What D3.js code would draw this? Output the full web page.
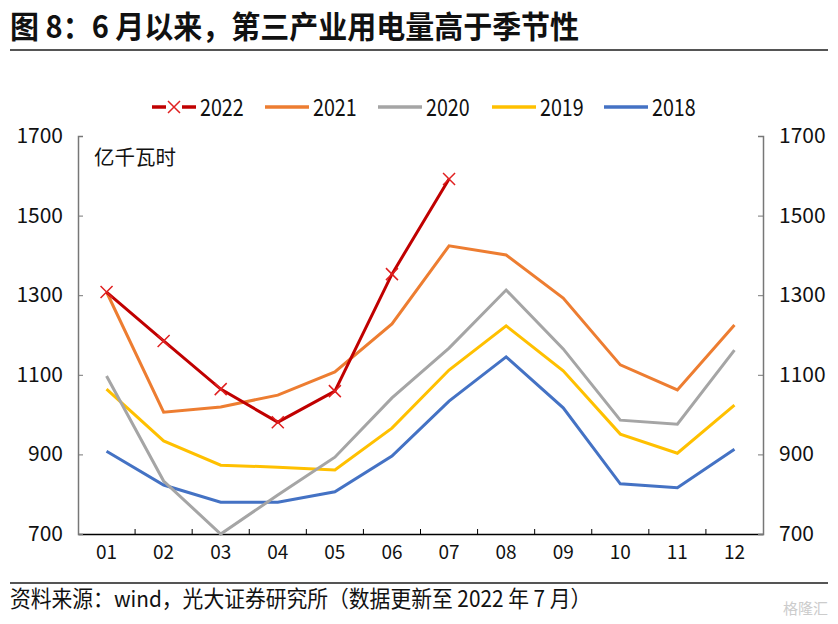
<html>
<head>
  <meta charset='utf-8' />
  <style>
    body { margin: 0; padding: 0; background: #fff; }
    text { font-family: 'Noto Sans CJK SC', 'Noto Sans', sans-serif; }
  </style>
</head>
<body>
  <svg width='838' height='624'></svg>
</body>

<script src="https://d3js.org/d3.v7.min.js"></script>

<script>
///////////////////
/// Data
///////////////////

  months = ['01', '02', '03', '04', '05', '06', '07', '08', '09', '10', '11', '12'];
  yTicks = [700, 900, 1100, 1300, 1500, 1700];

  v2022 = [1308, 1185, 1064, 981, 1059, 1353, 1592];
  v2021 = [1308, 1006, 1019, 1049, 1107, 1228, 1424, 1401, 1293, 1125, 1062, 1225];
  v2020 = [1097, 833, 700, 798, 893, 1042, 1167, 1313, 1165, 986, 976, 1162];
  v2019 = [1064, 934, 873, 868, 861, 966, 1112, 1223, 1110, 951, 903, 1024];
  v2018 = [908, 823, 780, 780, 806, 896, 1034, 1145, 1017, 826, 816, 913];

  series = [
    {name: '2022', values: v2022, color: '#C00000', marker: true},
    {name: '2021', values: v2021, color: '#ED7D31'},
    {name: '2020', values: v2020, color: '#A5A5A5'},
    {name: '2019', values: v2019, color: '#FFC000'},
    {name: '2018', values: v2018, color: '#4472C4'}
  ];

  svg = d3.select('svg');

///////////////////
/// Title & footer
///////////////////

  svg.append('text')
    .attr('transform', 'translate(10,38) scale(1,1.05)')
    .style('font-size', '29px').style('font-weight', 'bold')
    .attr('fill', '#111')
    .text('图 8：6 月以来，第三产业用电量高于季节性');

  svg.append('line')
    .attr('x1', 10).attr('x2', 828).attr('y1', 50).attr('y2', 50)
    .attr('stroke', '#555').attr('stroke-width', 2);

  svg.append('line')
    .attr('x1', 10).attr('x2', 828).attr('y1', 583).attr('y2', 583)
    .attr('stroke', '#555').attr('stroke-width', 2);

  svg.append('text')
    .attr('transform', 'translate(10,607) scale(1,1.08)')
    .style('font-size', '20.8px')
    .attr('fill', '#111')
    .text('资料来源：wind，光大证券研究所（数据更新至 2022 年 7 月）');

  svg.append('text')
    .attr('x', 828).attr('y', 614)
    .attr('text-anchor', 'end')
    .style('font-size', '15px')
    .attr('fill', '#ccc')
    .text('格隆汇');

///////////////////
/// Scales & axes
///////////////////

  x = d3.scaleBand().domain(months).range([78, 763]);
  y = d3.scaleLinear().domain([700, 1700]).range([534, 136]);

  plot = svg.append('g');

  xAxis = plot.append('g')
    .attr('transform', 'translate(0,534)')
    .call(d3.axisBottom(x).tickSize(0).tickPadding(12));
  xAxis.select('.domain').attr('stroke', '#000').attr('stroke-width', 1.5);
  xAxis.selectAll('text').style('font-size', '19px').attr('fill', '#111')
    .style('font-family', "'Noto Sans CJK SC', sans-serif");

  // category boundary ticks pointing inward
  plot.append('g').selectAll('line')
    .data(months.slice(1))
    .enter().append('line')
    .attr('x1', d => x(d)).attr('x2', d => x(d))
    .attr('y1', 534).attr('y2', 529)
    .attr('stroke', '#000');

  leftAxis = plot.append('g')
    .attr('transform', 'translate(78,0)')
    .call(d3.axisRight(y).tickValues(yTicks).tickSize(5).tickFormat(''));
  leftAxis.select('.domain').attr('stroke', '#777').attr('stroke-width', 1.5);
  leftAxis.selectAll('.tick line').attr('stroke', '#777');

  plot.append('g').selectAll('text')
    .data(yTicks)
    .enter().append('text')
    .attr('x', 63).attr('y', d => y(d) + 7)
    .attr('text-anchor', 'end')
    .style('font-size', '21px').attr('fill', '#111')
    .text(d => d);

  rightAxis = plot.append('g')
    .attr('transform', 'translate(763,0)')
    .call(d3.axisLeft(y).tickValues(yTicks).tickSize(5).tickFormat(''));
  rightAxis.select('.domain').attr('stroke', '#777').attr('stroke-width', 1.5);
  rightAxis.selectAll('.tick line').attr('stroke', '#777');

  plot.append('g').selectAll('text')
    .data(yTicks)
    .enter().append('text')
    .attr('x', 779).attr('y', d => y(d) + 7)
    .style('font-size', '21px').attr('fill', '#111')
    .text(d => d);

  svg.append('text')
    .attr('x', 94).attr('y', 165)
    .style('font-size', '20.5px').attr('fill', '#111')
    .text('亿千瓦时');

///////////////////
/// Lines
///////////////////

  line = d3.line()
    .x((d, i) => x(months[i]) + x.bandwidth() / 2)
    .y(d => y(d));

  lines = plot.append('g');
  series.slice().reverse().forEach(s => {
    lines.append('path')
      .datum(s.values)
      .attr('fill', 'none')
      .attr('stroke', s.color)
      .attr('stroke-width', 3)
      .attr('d', line);
  });

  crossSize = 6;
  lines.append('g').selectAll('path')
    .data(v2022)
    .enter().append('path')
    .attr('transform', (d, i) => `translate(${x(months[i]) + x.bandwidth() / 2},${y(d)})`)
    .attr('d', `M${-crossSize},${-crossSize}L${crossSize},${crossSize}M${-crossSize},${crossSize}L${crossSize},${-crossSize}`)
    .attr('stroke', '#E02020')
    .attr('stroke-width', 1.5)
    .attr('fill', 'none');

///////////////////
/// Legend
///////////////////

  legendX = [152, 265, 378, 492, 604];
  legend = svg.append('g');
  series.forEach((s, i) => {
    g = legend.append('g').attr('transform', `translate(${legendX[i]},107)`);
    g.append('line')
      .attr('x1', 0).attr('x2', 44).attr('y1', 0).attr('y2', 0)
      .attr('stroke', s.color).attr('stroke-width', 3.5);
    if (s.marker) {
      g.append('rect').attr('x', 14).attr('y', -8).attr('width', 16).attr('height', 16).attr('fill', '#fff');
      g.append('path')
        .attr('d', 'M16,-6L28,6M16,6L28,-6')
        .attr('stroke', '#E02020').attr('stroke-width', 1.5);
    }
    g.append('text')
      .attr('transform', 'translate(48,8.5) scale(0.82,1)')
      .style('font-size', '24px').attr('fill', '#111')
      .text(s.name);
  });

</script>
</html>
